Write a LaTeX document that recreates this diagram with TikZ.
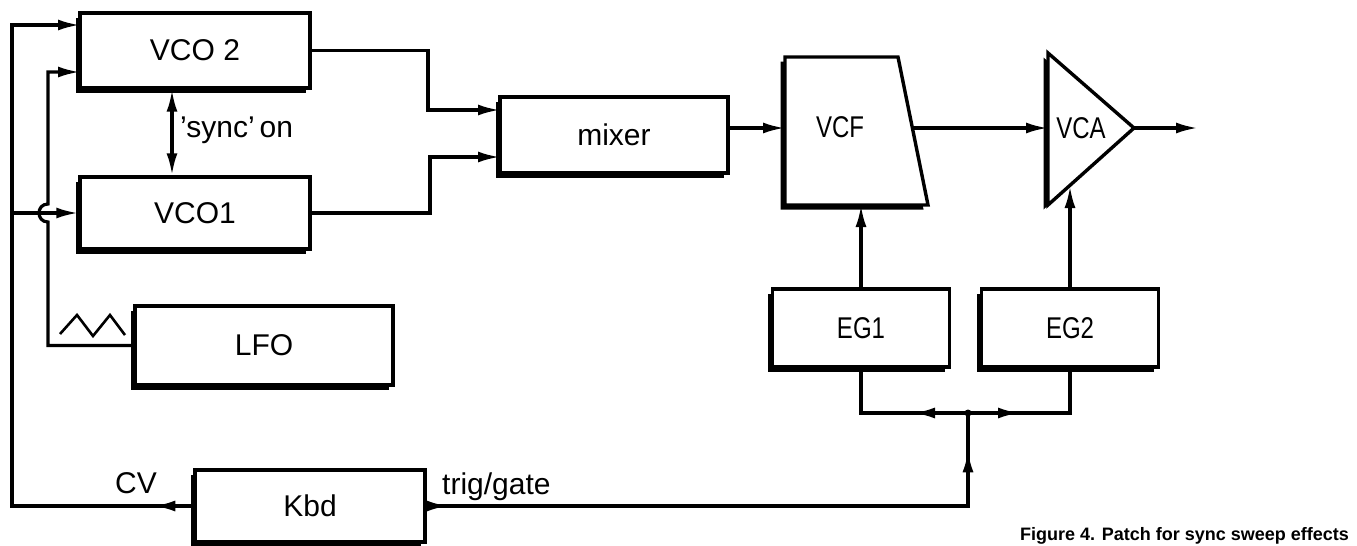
\documentclass[tikz,border=0pt]{standalone}
\usepackage{fontspec}
\setmainfont{Liberation Sans}
\newfontfamily\narrowfont{Liberation Sans}[FakeStretch=0.8]
\usetikzlibrary{arrows.meta,shadows,decorations.markings}
\tikzset{
  wire/.style={line width=3.2pt, line join=miter},
  tip/.tip={Latex[length=22pt,width=11pt]},
  arr/.style={-tip},
  boxshadow/.style={drop shadow={shadow xshift=-4.5pt, shadow yshift=-4.5pt, opacity=1, fill=black}},
  box/.style={draw, line width=3.4pt, fill=white, inner sep=0pt, boxshadow,
    font=\fontsize{30}{36}\selectfont},
  lbl/.style={font=\fontsize{30}{36}\selectfont, inner sep=0pt},
  midtip/.style={postaction={decorate}, decoration={markings, mark=at position #1 with {\arrow{tip}}}},
  twotips/.style 2 args={postaction={decorate}, decoration={markings,
      mark=at position #1 with {\arrow{tip}}, mark=at position #2 with {\arrow{tip}}}}
}
\begin{document}
\begin{tikzpicture}[x=1pt,y=-1pt]
\useasboundingbox (0,0) rectangle (1357,546);

% blocks
\node[box, minimum width=230pt, minimum height=75pt] (vco2) at (195,50.5) {VCO 2};
\node[box, minimum width=230pt, minimum height=72pt] (vco1) at (195,213) {VCO1};
\node[box, minimum width=258pt, minimum height=79pt] (lfo) at (264,345.5) {LFO};
\node[box, minimum width=230pt, minimum height=72pt] (kbd) at (310,506) {Kbd};
\node[box, minimum width=228pt, minimum height=76pt] (mixer) at (614,135) {mixer};
\node[box, minimum width=177pt, minimum height=78pt, font=\narrowfont\fontsize{30}{36}\selectfont] (eg1) at (861,328) {EG1};
\node[box, minimum width=177pt, minimum height=78pt, font=\narrowfont\fontsize{30}{36}\selectfont] (eg2) at (1070,328) {EG2};

% VCF trapezoid and VCA triangle
\filldraw[line width=3.4pt, line join=miter, fill=white, boxshadow] (785,57) -- (898,57) -- (928,205) -- (785,205) -- cycle;
\node[lbl, font=\narrowfont\fontsize{30}{36}\selectfont] (vcf) at (840,127) {VCF};
\filldraw[line width=3.4pt, line join=miter, fill=white, boxshadow] (1048,53) -- (1134,128) -- (1048,205) -- cycle;
\node[lbl, font=\narrowfont\fontsize{30}{36}\selectfont] (vca) at (1081,128) {VCA};

% named connection points
\coordinate (v2a) at (80,25);
\coordinate (v2b) at (80,72);
\coordinate (c0) at (12,25);
\coordinate (c3) at (12,213);
\coordinate (k2) at (428,110);
\coordinate (k1) at (430,157);
\coordinate (mxa) at (500,110);
\coordinate (mxb) at (500,157);
\coordinate (mxo) at (728,128);
\coordinate (vcfin) at (785,128);
\coordinate (vcfout) at (912,128);
\coordinate (vcfbot) at (861,205);
\coordinate (vcain) at (1048,128);
\coordinate (vcatip) at (1134,128);
\coordinate (vcabot) at (1070,186);
\coordinate (out) at (1198,128);
\coordinate (jn) at (968,413);

% labels
\node[lbl, anchor=west] (sync) at (180,130) {'sync'\hspace{5pt}on};
\node[lbl] (cv) at (136,483) {CV};
\node[lbl, anchor=base west] (trig) at (442,494) {trig/gate};
\node[anchor=base west, inner sep=0pt, font=\bfseries\fontsize{18}{20}\selectfont] (cap) at (1020,540) {Figure 4. Patch for sync sweep effects};

% triangle wave symbol
\draw[line width=2.6pt, line join=miter] (60,334) -- (77,315) -- (93,336) -- (110,315) -- (125,335);

% connectors
\draw[wire, arr, midtip=40pt] (kbd.west) -| (c0) -- (v2a);
\draw[wire, arr] (c3) -- (vco1.west);
\draw[wire, arr] (lfo.west) -| (48,222) .. controls (36,222) and (36,204) .. (48,204) |- (v2b);
\draw[wire, tip-tip] ([xshift=-23pt]vco2.south) -- ([xshift=-23pt]vco1.north);
\draw[wire, arr] (vco2.east) -| (k2) -- (mxa);
\draw[wire, arr] (vco1.east) -| (k1) -- (mxb);
\draw[wire, arr] (mxo) -- (vcfin);
\draw[wire, arr] (vcfout) -- (vcain);
\draw[wire, arr] (vcatip) -- (out);
\draw[wire, arr] (eg1.north) -- (vcfbot);
\draw[wire, arr] (eg2.north) -- (vcabot);
\draw[wire, twotips={22pt}{597pt}] (kbd.east) -| (jn);
\draw[wire, midtip=55pt] (jn) -| (eg1.south);
\draw[wire, midtip=52pt] (jn) -| (eg2.south);
\fill (jn) circle (3.5pt);
\end{tikzpicture}
\end{document}
